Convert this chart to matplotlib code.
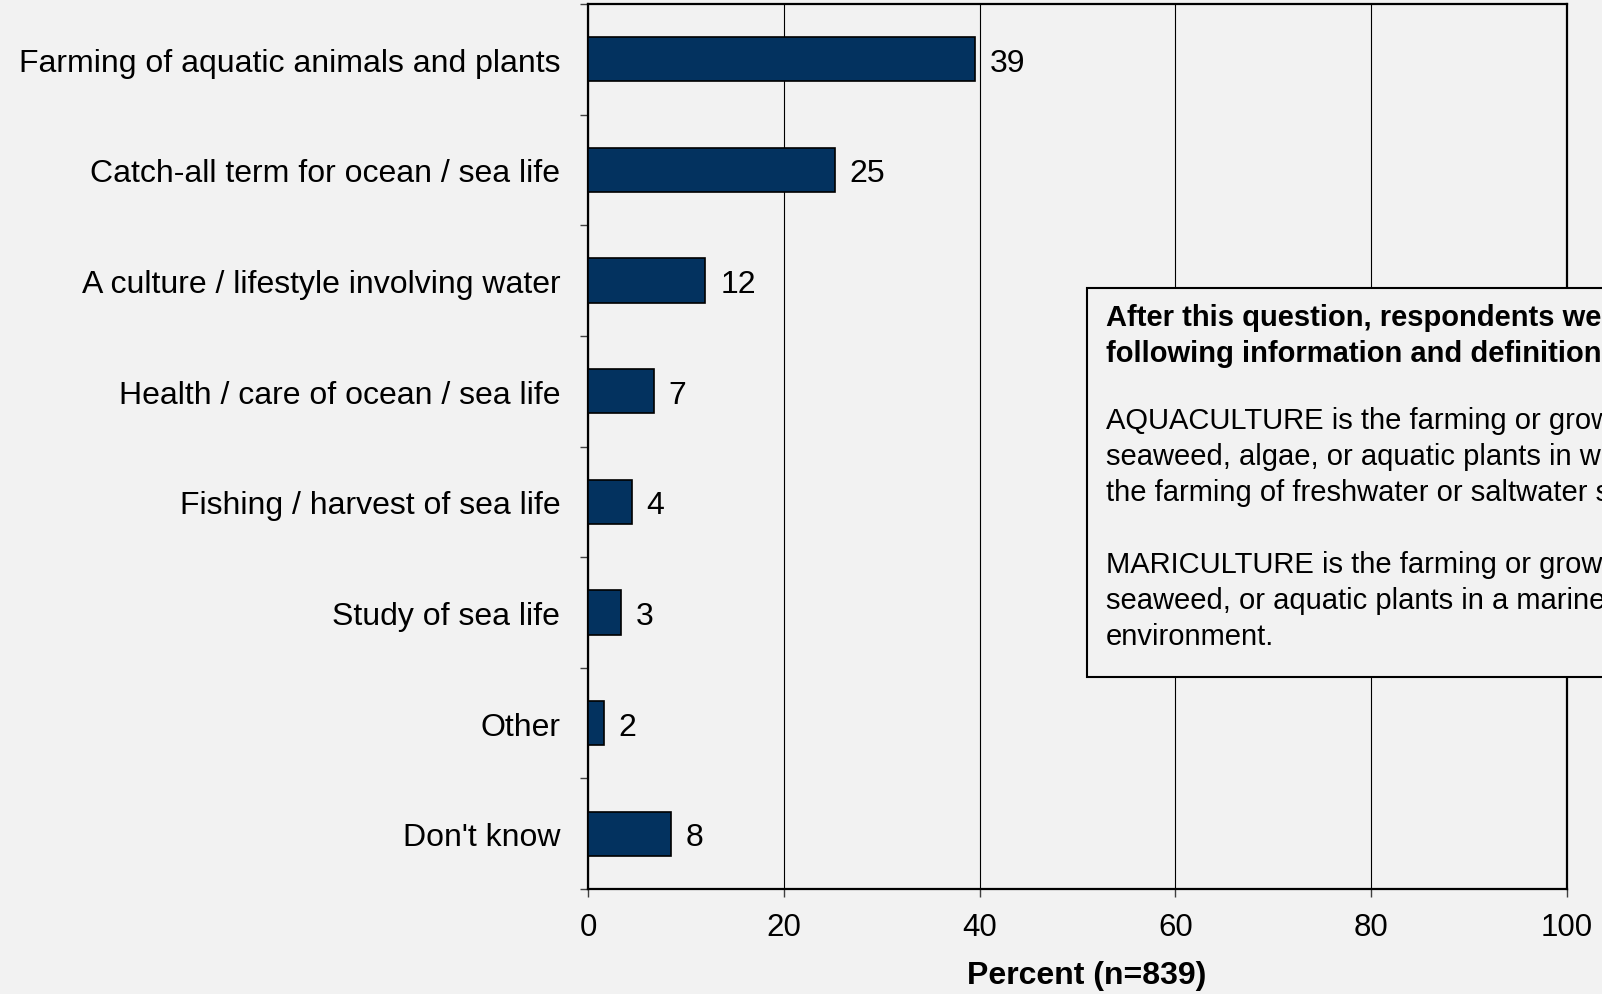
import matplotlib
matplotlib.use("Agg")
import matplotlib.pyplot as plt
from matplotlib.patches import Rectangle
import numpy as np

plt.rcParams['font.family'] = ['Liberation Sans', 'DejaVu Sans']

categories = ["Farming of aquatic animals and plants",
              "Catch-all term for ocean / sea life",
              "A culture / lifestyle involving water",
              "Health / care of ocean / sea life",
              "Fishing / harvest of sea life",
              "Study of sea life",
              "Other",
              "Don't know"]
percent = [39.5, 25.2, 12.0, 6.7, 4.5, 3.4, 1.6, 8.5]
percent_labels = ["39", "25", "12", "7", "4", "3", "2", "8"]
xticks = [0, 20, 40, 60, 80, 100]

note_title = "After this question, respondents were shown the\nfollowing information and definitions:"
note_body = ("AQUACULTURE is the farming or growing of fish, shellfish,\n"
             "seaweed, algae, or aquatic plants in water. It includes\n"
             "the farming of freshwater or saltwater species.\n\n"
             "MARICULTURE is the farming or growing of fish, shellfish,\n"
             "seaweed, or aquatic plants in a marine (saltwater)\n"
             "environment.")

bg = '#F2F2F2'
W, H = 1602, 995
fig = plt.figure(figsize=(W / 100, H / 100), dpi=100, facecolor=bg)
ax = fig.add_axes([588 / W, 1 - 890 / H, (1567 - 588) / W, (890 - 5) / H])
ax.set_facecolor(bg)

y = np.arange(len(categories))
ax.barh(y, percent, height=0.4, color='#03325F', edgecolor='black', linewidth=1.2, zorder=3)
for yi, v, lab in zip(y, percent, percent_labels):
    ax.text(v + 1.5, yi, lab, va='center_baseline', ha='left', fontsize=23, zorder=4)

ax.set_xlim(0, 100)
ax.set_ylim(len(categories) - 0.5, -0.5)
ax.set_xticks(xticks)
ax.set_xticklabels([str(t) for t in xticks], fontsize=22.5)
ax.set_yticks(y)
ax.set_yticklabels(categories, fontsize=23)
ax.set_yticks(np.arange(-0.5, len(categories), 1), minor=True)
ax.tick_params(axis='y', which='major', length=0, pad=20)
ax.tick_params(axis='y', which='minor', length=5.8, width=1, color='#404040', direction='out')
ax.tick_params(axis='x', which='major', length=5.8, width=1, color='#404040', direction='out', pad=11)
ax.xaxis.grid(True, color='black', linewidth=0.8, zorder=0)
ax.set_axisbelow(True)
for s in ax.spines.values():
    s.set_color('black')
    s.set_linewidth(1.6)

ax.set_xlabel("Percent (n=839)", fontsize=23, fontweight='bold', labelpad=13)
ax.xaxis.label.set_x(0.509)

# note box runs off the right edge, as in the original
box = Rectangle((1087 / W, 1 - 678 / H), 700 / W, (678 - 289) / H, transform=fig.transFigure,
                facecolor=bg, edgecolor='black', linewidth=1.5, zorder=5)
fig.add_artist(box)
fig.text(1106 / W, 1 - 304 / H, note_title, fontsize=21, fontweight='bold', va='top', ha='left',
         linespacing=1.36, zorder=6)
fig.text(1106 / W, 1 - 407 / H, note_body, fontsize=21, va='top', ha='left',
         linespacing=1.36, zorder=6)

fig.savefig('out.png', dpi=100, facecolor=bg)
